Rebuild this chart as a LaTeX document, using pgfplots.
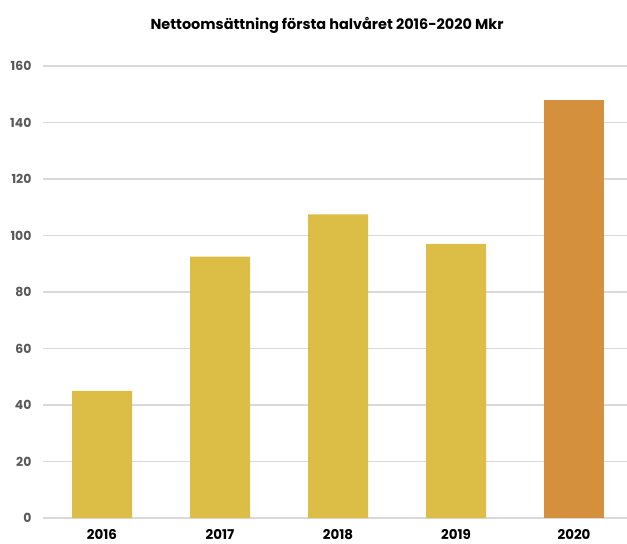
\documentclass[border=0pt]{standalone}
\usepackage{fontspec}
\setmainfont{Poppins}
\usepackage{pgfplots}
\pgfplotsset{compat=1.18}
\definecolor{baryellow}{HTML}{DCBE46}
\definecolor{barorange}{HTML}{D4903D}
\definecolor{gridgray}{HTML}{D9D9D9}
\definecolor{ticktext}{HTML}{595959}

\begin{document}
\begin{tikzpicture}
\begin{axis}[
  at={(0,0)}, anchor=south west,
  scale only axis,
  width=584bp, height=452bp,
  ybar, bar width=60bp,
  xmin=-0.5, xmax=4.449,
  ymin=0, ymax=160,
  ytick={0,20,...,160},
  xtick={0,1,2,3,4},
  xticklabels={2016,2017,2018,2019,2020},
  axis line style={draw=none},
  major tick length=0pt,
  ymajorgrids,
  grid style={gridgray, line width=1.8pt},
  /pgf/number format/assume math mode=true,
  yticklabel style={font=\fontsize{12.5}{14}\selectfont\bfseries, text=ticktext, anchor=east, xshift=-8bp},
  xticklabel style={font=\fontsize{13.5}{15}\selectfont\bfseries, text=black,
    anchor=base, inner sep=0pt, yshift=-21bp},
  clip=false,
]
\addplot[fill=baryellow, draw=none, bar shift=0pt]
  coordinates {(0,45) (1,92.5) (2,107.5) (3,97)};
\addplot[fill=barorange, draw=none, bar shift=0pt]
  coordinates {(4,147.8)};
\end{axis}
\node[anchor=base, font=\fontsize{14.5}{16}\selectfont\bfseries] at (284bp,488bp)
  {Nettoomsättning första halvåret 2016-2020 Mkr};
\pgfresetboundingbox
\path[use as bounding box] (-43bp,-26bp) rectangle (584bp,518bp);
\end{tikzpicture}
\end{document}
